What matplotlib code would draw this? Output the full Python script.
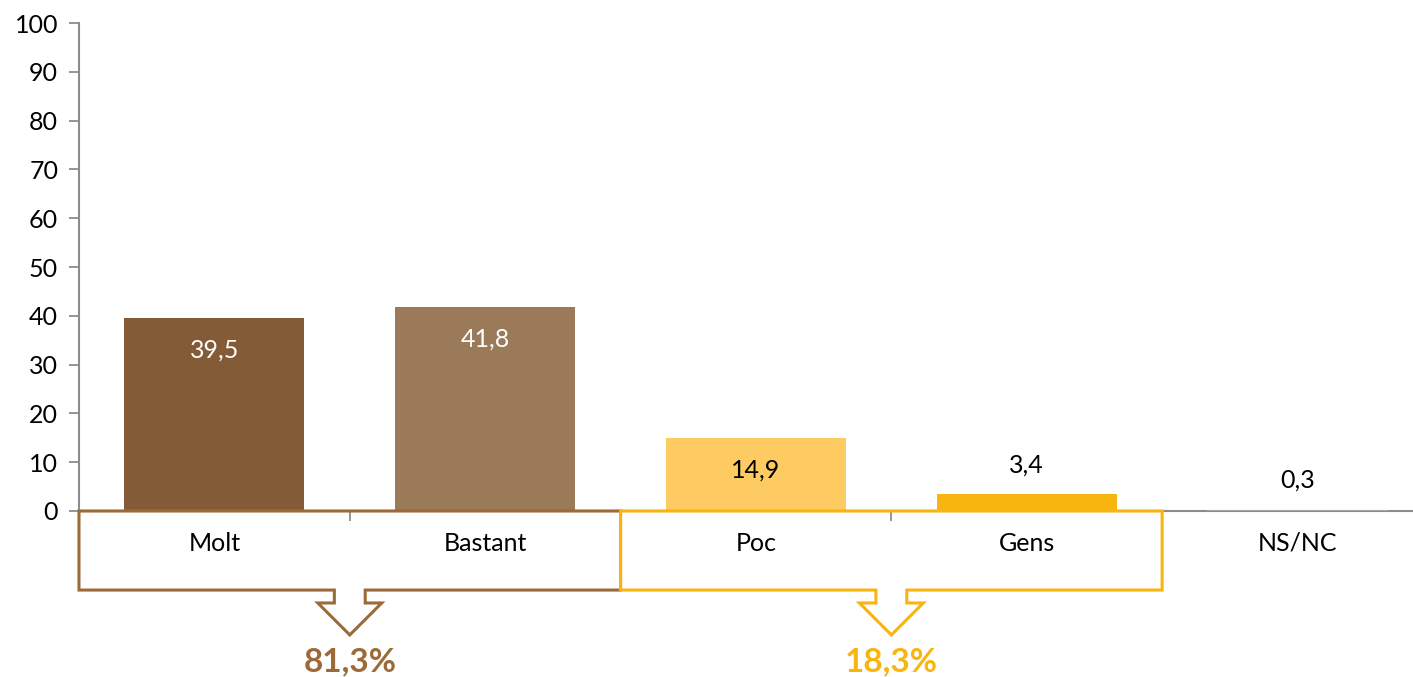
import matplotlib

matplotlib.use('Agg')
import matplotlib.pyplot as plt  # noqa: E402
from matplotlib.patches import Polygon  # noqa: E402

plt.rcParams['font.family'] = ['Lato', 'DejaVu Sans']

# --- Data ---
categories = ['Molt', 'Bastant', 'Poc', 'Gens', 'NS/NC']
values = [39.5, 41.8, 14.9, 3.4, 0.3]
value_labels = ['39,5', '41,8', '14,9', '3,4', '0,3']
bar_colors = ['#845B37', '#9B7A5A', '#FDCB62', '#F8B50F', '#A6A6A6']
label_colors = ['white', 'white', 'black', 'black', 'black']
label_inside = [True, True, True, False, False]

groups = [(0, 1), (2, 3)]           # category index ranges grouped together
group_totals = ['81,3%', '18,3%']
group_colors = ['#9C6A38', '#F8B50F']

AXIS_GREY = '#8C8C8C'
FS = 18

fig = plt.figure(figsize=(14.13, 6.77), dpi=100)
ax = fig.add_axes([0.0559, 0.2452, 0.9582, 0.7208])

x = list(range(len(categories)))
ax.bar(x, values, width=0.665, color=bar_colors, zorder=3)

for xi, v, lab, col, inside in zip(x, values, value_labels, label_colors, label_inside):
    if inside:
        ax.text(xi, v - 6.5, lab, ha='center', va='center', color=col, fontsize=FS, zorder=3)
    else:
        ax.text(xi, v + 6.0, lab, ha='center', va='center', color=col, fontsize=FS, zorder=3)

for xi, cat in zip(x, categories):
    ax.text(xi, -6.6, cat, ha='center', va='center', fontsize=FS, color='black', clip_on=False)

# --- Group boxes with down arrows ---
box_bottom, stem_bottom, tip = -16.2, -18.85, -25.4
sw, hw = 0.057, 0.118
for (i0, i1), total, col in zip(groups, group_totals, group_colors):
    left, right = i0 - 0.5, i1 + 0.5
    mid = (left + right) / 2
    pts = [
        (left, 0), (right, 0), (right, box_bottom),
        (mid + sw, box_bottom), (mid + sw, stem_bottom), (mid + hw, stem_bottom),
        (mid, tip),
        (mid - hw, stem_bottom), (mid - sw, stem_bottom), (mid - sw, box_bottom),
        (left, box_bottom),
    ]
    ax.add_patch(Polygon(pts, closed=True, fill=False, edgecolor=col, lw=2.2,
                         joinstyle='miter', clip_on=False, zorder=4))
    ax.text(mid, -31.0, total, ha='center', va='center', fontsize=24,
            fontweight='bold', color=col, clip_on=False)

# --- Axes cosmetics ---
ax.set_xlim(-0.5, len(categories) - 0.5)
ax.set_ylim(0, 100)
ax.set_yticks(range(0, 101, 10))
ax.tick_params(axis='y', labelsize=FS, color=AXIS_GREY, length=7, width=1.3, pad=8)
ax.set_xticks([])
ax.set_xticks([i + 0.5 for i in range(len(categories) - 1)], minor=True)
ax.tick_params(axis='x', which='minor', color=AXIS_GREY, length=7, width=1.3, direction='out')

for side in ('top', 'right'):
    ax.spines[side].set_visible(False)
for side in ('left', 'bottom'):
    ax.spines[side].set_color(AXIS_GREY)
    ax.spines[side].set_linewidth(1.5)

fig.savefig('out.png', dpi=100)
